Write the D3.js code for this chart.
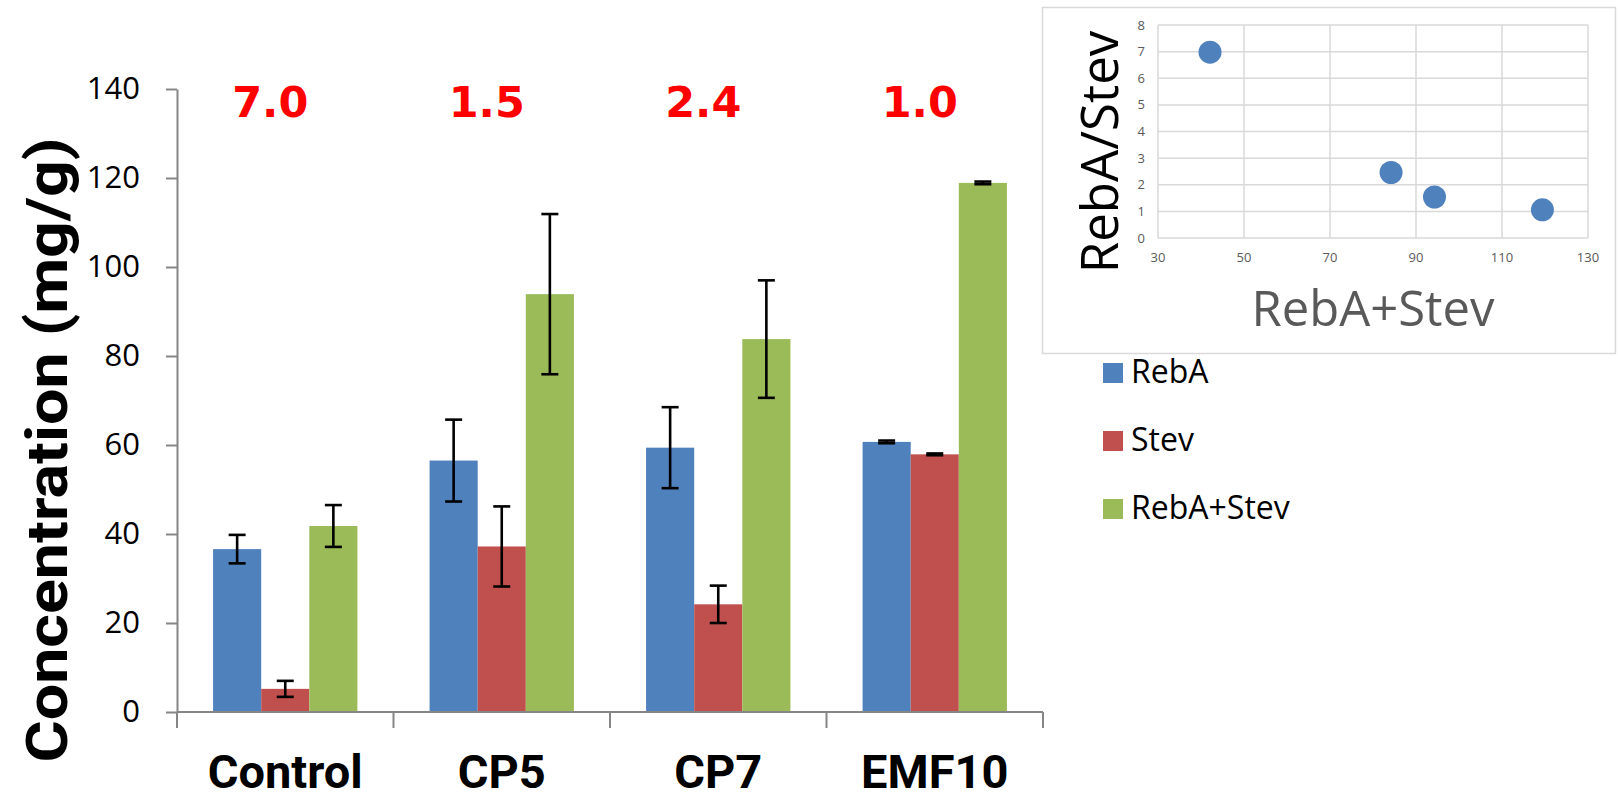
<!DOCTYPE html>
<html>
<head>
<meta charset="utf-8">
<script src="https://cdn.jsdelivr.net/npm/d3@7"></script>
<style>
  html, body { margin: 0; padding: 0; background: #ffffff; }
  svg { display: block; }
</style>
</head>
<body>
<svg id="chart" width="1618" height="799"></svg>
<script>
// ---- data ----
const categories = ["Control", "CP5", "CP7", "EMF10"];
const seriesNames = ["RebA", "Stev", "RebA+Stev"];
const rebA     = [36.6, 56.5, 59.4, 60.7];
const rebAErr  = [3.2, 9.2, 9.1, 0.3];
const stev     = [5.2, 37.2, 24.2, 57.9];
const stevErr  = [1.8, 9.0, 4.2, 0.2];
const sumAS    = [41.8, 93.9, 83.8, 118.9];
const sumASErr = [4.7, 18.0, 13.2, 0.3];
const ratioLabels = ["7.0", "1.5", "2.4", "1.0"];
const yTicks = [0, 20, 40, 60, 80, 100, 120, 140];

// inset scatter
const scatterX = [42.1, 84.2, 94.3, 119.4];
const scatterY = [6.98, 2.46, 1.54, 1.06];
const insetXTicks = [30, 50, 70, 90, 110, 130];
const insetYTicks = [0, 1, 2, 3, 4, 5, 6, 7, 8];

const colors = ["#4f81bd", "#c0504d", "#9bbb59"];
const values = [rebA, stev, sumAS];
const errors = [rebAErr, stevErr, sumASErr];

const svg = d3.select("#chart");
const axisColor = "#868686";

// ---- main bar chart ----
const y = d3.scaleLinear().domain([0, 140]).range([712, 89]);
const x0 = d3.scaleBand().domain(categories).range([177, 1043]).padding(0);
const bw = x0.bandwidth();
const x1 = d3.scaleBand().domain(seriesNames).range([bw / 6, bw * 5 / 6]).padding(0);

const barData = [];
categories.forEach((c, i) => {
  seriesNames.forEach((s, j) => {
    barData.push({cat: c, ser: s, v: values[j][i], e: errors[j][i], color: colors[j]});
  });
});

const bars = svg.append("g");
bars.selectAll("rect").data(barData).enter().append("rect")
  .attr("x", d => x0(d.cat) + x1(d.ser))
  .attr("y", d => y(d.v))
  .attr("width", x1.bandwidth())
  .attr("height", d => y(0) - y(d.v))
  .attr("fill", d => d.color);

// error bars
const eg = svg.append("g").attr("stroke", "#000").attr("stroke-width", 2.6);
const capHalf = 8.5;
barData.forEach(d => {
  const cx = x0(d.cat) + x1(d.ser) + x1.bandwidth() / 2;
  const yt = y(d.v + d.e), yb = y(d.v - d.e);
  eg.append("line").attr("x1", cx).attr("x2", cx).attr("y1", yt).attr("y2", yb);
  eg.append("line").attr("x1", cx - capHalf).attr("x2", cx + capHalf).attr("y1", yt).attr("y2", yt);
  eg.append("line").attr("x1", cx - capHalf).attr("x2", cx + capHalf).attr("y1", yb).attr("y2", yb);
});

// y axis
const yAxis = svg.append("g").attr("transform", `translate(${x0.range()[0]},0)`)
  .call(d3.axisLeft(y).tickValues(yTicks).tickSize(11).tickSizeOuter(0).tickPadding(26));
yAxis.select(".domain").attr("stroke", axisColor).attr("stroke-width", 2);
yAxis.selectAll(".tick line").attr("stroke", axisColor).attr("stroke-width", 2);
yAxis.selectAll(".tick text")
  .attr("font-family", "'Open Sans', sans-serif")
  .attr("font-size", 31).attr("fill", "#000");

// x axis
const xAxisG = svg.append("g");
xAxisG.append("line")
  .attr("x1", x0.range()[0]).attr("x2", x0.range()[1])
  .attr("y1", y(0)).attr("y2", y(0))
  .attr("stroke", axisColor).attr("stroke-width", 2);
const bounds = categories.map(c => x0(c)).concat([x0.range()[1]]);
xAxisG.selectAll("line.tk").data(bounds).enter().append("line")
  .attr("class", "tk")
  .attr("x1", d => d).attr("x2", d => d)
  .attr("y1", y(0)).attr("y2", y(0) + 16)
  .attr("stroke", axisColor).attr("stroke-width", 2);
xAxisG.selectAll("text").data(categories).enter().append("text")
  .attr("x", d => x0(d) + bw / 2)
  .attr("y", 788)
  .attr("text-anchor", "middle")
  .attr("font-family", "Roboto, 'Open Sans', sans-serif")
  .attr("font-weight", "bold")
  .attr("font-size", 47)
  .attr("fill", "#000")
  .text(d => d);

// y axis title
svg.append("text")
  .attr("transform", "translate(67,450) rotate(-90)")
  .attr("text-anchor", "middle")
  .attr("font-family", "Roboto, 'Open Sans', sans-serif")
  .attr("font-weight", "bold")
  .attr("font-size", 58)
  .attr("textLength", 625)
  .attr("lengthAdjust", "spacingAndGlyphs")
  .attr("fill", "#000")
  .text("Concentration (mg/g)");

// ratio labels
svg.append("g").selectAll("text").data(categories).enter().append("text")
  .attr("x", d => x0(d) + bw / 2 - 15)
  .attr("y", 117)
  .attr("text-anchor", "middle")
  .attr("font-family", "'DejaVu Sans', sans-serif")
  .attr("font-weight", "bold")
  .attr("font-size", 43)
  .attr("fill", "#ff0000")
  .text((d, i) => ratioLabels[i]);

// legend
const lg = svg.append("g");
seriesNames.forEach((s, i) => {
  const ly = 363 + i * 68;
  lg.append("rect").attr("x", 1103).attr("y", ly).attr("width", 20).attr("height", 20).attr("fill", colors[i]);
  lg.append("text").attr("x", 1131).attr("y", ly + 20)
    .attr("font-family", "'Open Sans', sans-serif").attr("font-size", 32).attr("fill", "#000")
    .text(s);
});

// ---- inset scatter ----
const inset = svg.append("g");
inset.append("rect")
  .attr("x", 1042.5).attr("y", 7.5).attr("width", 573).attr("height", 346)
  .attr("fill", "#fff").attr("stroke", "#d9d9d9").attr("stroke-width", 1.5);

const sx = d3.scaleLinear().domain([30, 130]).range([1158, 1588]);
const sy = d3.scaleLinear().domain([0, 8]).range([238, 25]);
const gridColor = "#d9d9d9";

inset.selectAll("line.gx").data(insetXTicks).enter().append("line")
  .attr("x1", d => sx(d)).attr("x2", d => sx(d))
  .attr("y1", sy(0)).attr("y2", sy(8))
  .attr("stroke", gridColor).attr("stroke-width", 1.5);
inset.selectAll("line.gy").data(insetYTicks).enter().append("line")
  .attr("x1", sx(30)).attr("x2", sx(130))
  .attr("y1", d => sy(d)).attr("y2", d => sy(d))
  .attr("stroke", gridColor).attr("stroke-width", 1.5);

inset.selectAll("text.tx").data(insetXTicks).enter().append("text")
  .attr("x", d => sx(d)).attr("y", sy(0) + 24)
  .attr("text-anchor", "middle")
  .attr("font-family", "'Open Sans', sans-serif").attr("font-size", 13).attr("fill", "#595959")
  .text(d => d);
inset.selectAll("text.ty").data(insetYTicks).enter().append("text")
  .attr("x", sx(30) - 13).attr("y", d => sy(d)).attr("dy", "0.35em")
  .attr("text-anchor", "end")
  .attr("font-family", "'Open Sans', sans-serif").attr("font-size", 13).attr("fill", "#595959")
  .text(d => d);

inset.selectAll("circle").data(scatterX).enter().append("circle")
  .attr("cx", d => sx(d))
  .attr("cy", (d, i) => sy(scatterY[i]))
  .attr("r", 11.5)
  .attr("fill", "#4f81bd");

inset.append("text")
  .attr("x", (sx(30) + sx(130)) / 2).attr("y", 326)
  .attr("text-anchor", "middle")
  .attr("font-family", "'Open Sans', sans-serif").attr("font-size", 49).attr("fill", "#595959")
  .text("RebA+Stev");
inset.append("text")
  .attr("transform", "translate(1118,152) rotate(-90)")
  .attr("text-anchor", "middle")
  .attr("font-family", "'Open Sans', sans-serif").attr("font-size", 51).attr("fill", "#000")
  .text("RebA/Stev");
</script>
</body>
</html>
